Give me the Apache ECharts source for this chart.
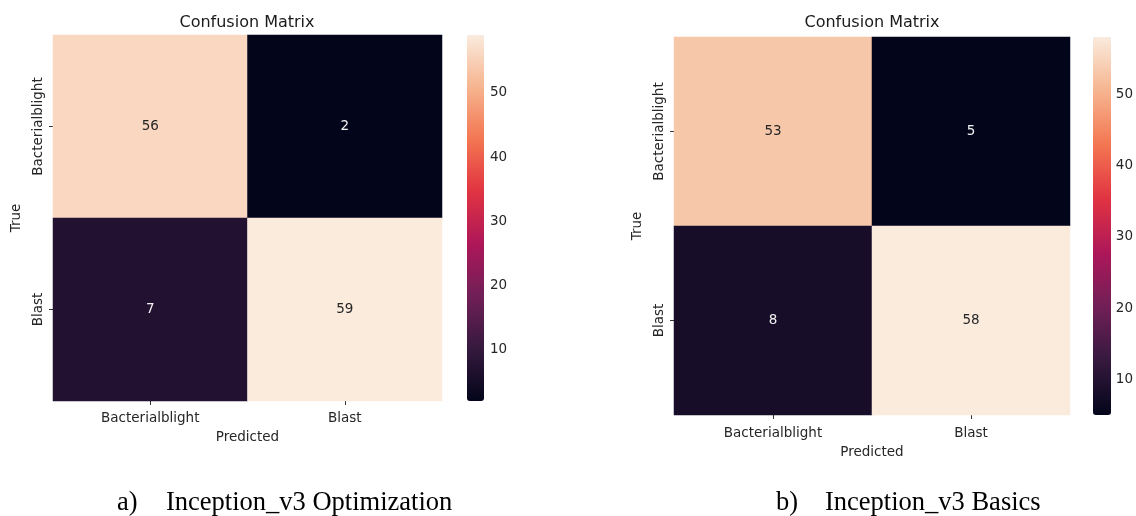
<!DOCTYPE html>
<html>
<head>
<meta charset="utf-8">
<script src="https://cdn.jsdelivr.net/npm/echarts@6/dist/echarts.min.js"></script>
<style>
  html, body { margin: 0; padding: 0; background: #ffffff; }
  #chart { width: 1136px; height: 516px; }
</style>
</head>
<body>
<div id="chart"></div>
<script>
// Class labels shared by both confusion matrices
const classNames = ['Bacterialblight', 'Blast'];

// Rows = true class, columns = predicted class
const optimizedMatrix = [
  [56, 2],
  [7, 59]
];
const basicMatrix = [
  [53, 5],
  [8, 58]
];

// Colorbar tick values
const colorbarTicks = [10, 20, 30, 40, 50];

// Captions under each panel
const captionLetters = ['a)', 'b)'];
const captionTexts = ['Inception_v3 Optimization', 'Inception_v3 Basics'];

// "rocket" sequential palette, evenly spaced stops
const rocketStops = ['#03051a', '#35193e', '#701f57', '#ad1759', '#e13342', '#f37651', '#f6b48f', '#faebdd'];

const SANS = 'DejaVu Sans';
const TEXT_DARK = '#262626';
const TEXT_LIGHT = '#f2f2f2';

function matrixRange(m) {
  const flat = m.flat();
  return [Math.min.apply(null, flat), Math.max.apply(null, flat)];
}

function heatmapData(m) {
  const [lo, hi] = matrixRange(m);
  const data = [];
  m.forEach((row, r) => {
    row.forEach((v, c) => {
      const light = (v - lo) / (hi - lo) > 0.6;
      data.push({
        value: [c, r, v],
        label: { color: light ? TEXT_DARK : TEXT_LIGHT }
      });
    });
  });
  return data;
}

const panels = [
  { matrix: optimizedMatrix, grid: { left: 53, top: 35, width: 389, height: 366 },
    bar: { left: 467, top: 35, width: 17, height: 366 },
    titleX: 247, labelMargin: 10, nameGapX: 29, caption: { letterX: 117, textX: 166, top: 490 } },
  { matrix: basicMatrix, grid: { left: 674, top: 37, width: 396, height: 378 },
    bar: { left: 1093, top: 37, width: 18, height: 378 },
    titleX: 872, labelMargin: 11, nameGapX: 30, caption: { letterX: 776, textX: 825, top: 490 } }
];

const option = {
  animation: false,
  backgroundColor: '#ffffff',
  title: [],
  grid: [],
  xAxis: [],
  yAxis: [],
  visualMap: [],
  series: []
};

panels.forEach((p, i) => {
  const [lo, hi] = matrixRange(p.matrix);
  const gi = option.grid.length;

  // Panel title
  option.title.push({
    text: 'Confusion Matrix',
    left: p.titleX, top: 15, textAlign: 'center', padding: 0,
    textStyle: { fontFamily: SANS, fontSize: 16, fontWeight: 'normal', color: '#1a1a1a' }
  });
  // Caption
  option.title.push({
    text: captionLetters[i], left: p.caption.letterX, top: p.caption.top, padding: 0,
    textStyle: { fontFamily: 'Liberation Serif', fontSize: 26.5, fontWeight: 'normal', color: '#000' }
  });
  option.title.push({
    text: captionTexts[i], left: p.caption.textX, top: p.caption.top, padding: 0,
    textStyle: { fontFamily: 'Liberation Serif', fontSize: 26.5, fontWeight: 'normal', color: '#000' }
  });

  // Heatmap grid
  option.grid.push(Object.assign({ containLabel: false }, p.grid));
  option.xAxis.push({
    type: 'category', gridIndex: gi, data: classNames,
    name: 'Predicted', nameLocation: 'middle', nameGap: p.nameGapX,
    nameTextStyle: { fontFamily: SANS, fontSize: 13.5, color: TEXT_DARK },
    axisLine: { show: false },
    axisTick: { show: true, alignWithLabel: true, length: 4, lineStyle: { color: '#333', width: 1 } },
    axisLabel: { fontFamily: SANS, fontSize: 13.5, color: TEXT_DARK, margin: p.labelMargin },
    splitLine: { show: false }
  });
  option.yAxis.push({
    type: 'category', gridIndex: gi, data: classNames, inverse: true,
    name: 'True', nameLocation: 'middle', nameGap: 30, nameRotate: 90,
    nameTextStyle: { fontFamily: SANS, fontSize: 13.5, color: TEXT_DARK },
    axisLine: { show: false },
    axisTick: { show: true, alignWithLabel: true, length: 4, lineStyle: { color: '#333', width: 1 } },
    axisLabel: { fontFamily: SANS, fontSize: 13.5, color: TEXT_DARK, rotate: 90, margin: 8 },
    splitLine: { show: false }
  });
  option.series.push({
    type: 'heatmap', xAxisIndex: gi, yAxisIndex: gi,
    data: heatmapData(p.matrix),
    label: { show: true, fontFamily: SANS, fontSize: 13.5 },
    itemStyle: { borderWidth: 0 },
    emphasis: { disabled: true }
  });

  // Colorbar gradient
  option.visualMap.push({
    type: 'continuous', seriesIndex: option.series.length - 1,
    min: lo, max: hi, calculable: false, show: true,
    left: p.bar.left, top: p.bar.top, padding: 0,
    itemWidth: p.bar.width, itemHeight: p.bar.height,
    text: null, showLabel: false,
    inRange: { color: rocketStops }
  });

  // Colorbar tick axis
  const bi = option.grid.length;
  option.grid.push(Object.assign({ containLabel: false }, p.bar));
  option.xAxis.push({ type: 'value', gridIndex: bi, show: false });
  option.yAxis.push({
    type: 'value', gridIndex: bi, position: 'right', min: lo, max: hi,
    axisLine: { show: false },
    splitLine: { show: false },
    axisTick: { show: true, length: 4, customValues: colorbarTicks, lineStyle: { color: '#333' } },
    axisLabel: { show: true, customValues: colorbarTicks, fontFamily: SANS, fontSize: 13.5, color: TEXT_DARK, margin: 6 }
  });
});

const chart = echarts.init(document.getElementById('chart'), null, { renderer: 'canvas' });
chart.setOption(option);
</script>
</body>
</html>
